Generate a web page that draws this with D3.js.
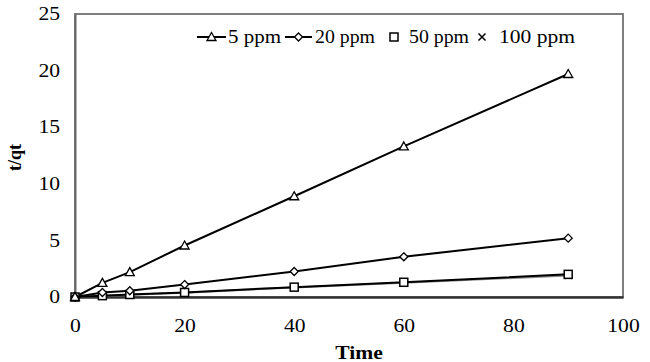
<!DOCTYPE html>
<html lang="en">
<head>
<meta charset="UTF-8">
<title>t/qt vs Time</title>
<script src="https://d3js.org/d3.v7.min.js"></script>
<style>
    body { margin: 0; background: #fff; }
    svg text { font-family: "Liberation Serif", "Times New Roman", serif; fill: #000; }
    .tick text { font-size: 18px; }
    .axis-title { font-size: 18px; font-weight: bold; }
    .legend text { font-size: 18px; }
</style>
</head>
<body>
<svg width="650" height="362"></svg>
<script>
const times = [0, 5, 10, 20, 40, 60, 90];
const ppm5 = [0, 1.25, 2.2, 4.55, 8.9, 13.3, 19.7];
const ppm20 = [0, 0.4, 0.55, 1.1, 2.25, 3.55, 5.2];
const ppm50 = [0, 0.12, 0.22, 0.4, 0.87, 1.3, 2.0];
const ppm100 = [0, 0.1, 0.2, 0.38, 0.85, 1.25, 1.9];
const seriesNames = ["5 ppm", "20 ppm", "50 ppm", "100 ppm"];
const xTicks = [0, 20, 40, 60, 80, 100];
const yTicks = [0, 5, 10, 15, 20, 25];

const margin = {top: 14, right: 27, bottom: 65, left: 75};
const width = 650, height = 362;
const svg = d3.select("svg");
const g = svg.append("g").attr("transform", `translate(${margin.left},${margin.top})`);
const iw = width - margin.left - margin.right;
const ih = height - margin.top - margin.bottom;

const x = d3.scaleLinear().domain([0, 100]).range([0, iw]);
const y = d3.scaleLinear().domain([0, 25]).range([ih, 0]);

// the source picture is a little wide, so text is stretched sideways
function widen(sel, k = 1.2) {
    sel.each(function() {
        const w = this.getComputedTextLength();
        d3.select(this).attr("textLength", w * k).attr("lengthAdjust", "spacingAndGlyphs");
    });
}

// plot frame
g.append("rect").attr("width", iw).attr("height", ih)
    .attr("fill", "none").attr("stroke", "#7f7f7f").attr("stroke-width", 2);

const xAxis = g.append("g").attr("transform", `translate(0,${ih})`)
    .call(d3.axisBottom(x).tickValues(xTicks).tickSize(0).tickPadding(22));
xAxis.select(".domain").attr("stroke", "#333").attr("stroke-width", 2.5);
widen(xAxis.selectAll(".tick text"));

const yAxis = g.append("g")
    .call(d3.axisLeft(y).tickValues(yTicks).tickSize(0).tickPadding(15));
yAxis.select(".domain").attr("stroke", "#666").attr("stroke-width", 2);
widen(yAxis.selectAll(".tick text"));

g.append("text").attr("class", "axis-title")
    .attr("x", iw / 2 + 10).attr("y", ih + 62).attr("text-anchor", "middle").text("Time")
    .call(widen);
g.append("text").attr("class", "axis-title")
    .attr("transform", `translate(${-54},${ih / 2 + 2}) rotate(-90)`)
    .attr("text-anchor", "middle").text("t/qt");

const series = [
    {name: seriesNames[0], vals: ppm5, shape: "tri", line: "#000"},
    {name: seriesNames[1], vals: ppm20, shape: "dia", line: "#000"},
    {name: seriesNames[2], vals: ppm50, shape: "sq", line: "#000"},
    {name: seriesNames[3], vals: ppm100, shape: "x", line: "#888"}
];

function marker(sel, shape) {
    if (shape === "tri") {
        sel.append("path").attr("d", "M0,-4.5L4.5,3.5L-4.5,3.5Z")
            .attr("fill", "#fff").attr("stroke", "#000").attr("stroke-width", 1.3);
    } else if (shape === "dia") {
        sel.append("path").attr("d", "M0,-4L4,0L0,4L-4,0Z")
            .attr("fill", "#fff").attr("stroke", "#000").attr("stroke-width", 1.3);
    } else if (shape === "sq") {
        sel.append("rect").attr("x", -4).attr("y", -4).attr("width", 8).attr("height", 8)
            .attr("fill", "#fff").attr("stroke", "#000").attr("stroke-width", 1.5);
    } else {
        sel.append("path").attr("d", "M-3.5,-3.5L3.5,3.5M-3.5,3.5L3.5,-3.5")
            .attr("stroke", "#000").attr("stroke-width", 1.5);
    }
}

const line = d3.line().x((d, i) => x(times[i])).y(d => y(d));

series.slice().reverse().forEach(s => {
    g.append("path").datum(s.vals).attr("d", line)
        .attr("fill", "none").attr("stroke", s.line).attr("stroke-width", 2);
});
series.slice().reverse().forEach(s => {
    g.selectAll(null).data(s.vals).enter().append("g")
        .attr("transform", (d, i) => `translate(${x(times[i])},${y(d)})`)
        .each(function() { marker(d3.select(this), s.shape); });
});

// legend
const legend = svg.append("g").attr("class", "legend").attr("transform", "translate(0,37)");
const legendItems = [
    {x: 197, lineW: 29, text: 228, tw: 53},
    {x: 285, lineW: 27, text: 315, tw: 60},
    {x: 390, lineW: 0, text: 409, tw: 60},
    {x: 478, lineW: 0, text: 499, tw: 76}
];
series.forEach((s, i) => {
    const li = legendItems[i];
    const item = legend.append("g");
    if (li.lineW > 0) {
        item.append("line").attr("x1", li.x).attr("x2", li.x + li.lineW)
            .attr("stroke", "#000").attr("stroke-width", 2);
        marker(item.append("g").attr("transform", `translate(${li.x + li.lineW / 2},0)`), s.shape);
    } else {
        marker(item.append("g").attr("transform", `translate(${li.x + 4},0)`), s.shape);
    }
    item.append("text").attr("x", li.text).attr("y", 6).text(s.name)
        .attr("textLength", li.tw).attr("lengthAdjust", "spacingAndGlyphs");
});
</script>
</body>
</html>
